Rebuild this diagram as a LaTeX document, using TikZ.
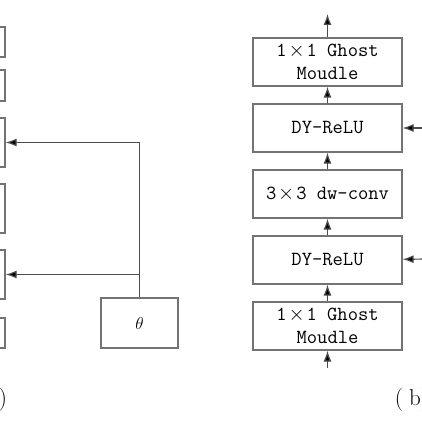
\documentclass[tikz,border=0pt]{standalone}
\usetikzlibrary{arrows.meta,positioning}

\newcommand{\bx}{\makebox[1em]{$\times$}}

\begin{document}
\begin{tikzpicture}[>={Latex[length=11pt,width=8pt]},->,x=1pt,y=-1pt,auto,node distance=66pt,
                    line width=1.2pt,draw=black!70]
\tikzstyle{block}=[draw=black!55,minimum width=149pt,minimum height=48pt,inner sep=0pt,align=center,
                   font=\fontsize{20}{23}\ttfamily]
\tikzstyle{leftbox}=[draw=black!55,minimum width=100pt,inner sep=0pt]
\tikzstyle{arr}=[-{Latex[length=11pt,width=8pt,fill=black]}]
\tikzset{label font/.style={font=\fontsize{23}{26}\selectfont}}

        \useasboundingbox (0,0) rectangle (422,422);
        \clip (0,0) rectangle (422,422);

        % (a), only its right edge shows
        \node[leftbox,minimum height=30pt] (a1) at (-45,42)    {};
        \node[leftbox,minimum height=31pt] (a2) at (-45,85.5)  {};
        \node[leftbox,minimum height=49pt] (a3) at (-45,142.5) {};
        \node[leftbox,minimum height=49pt] (a4) at (-45,208.5) {};
        \node[leftbox,minimum height=49pt] (a5) at (-45,274.5) {};
        \node[leftbox,minimum height=30pt] (a6) at (-45,333)   {};
        \node[draw=black!55,minimum width=77pt,minimum height=50pt,inner sep=0pt,font=\fontsize{19}{22}\selectfont]
                                                   (theta) at (139.5,323) {$\theta$};
        \node[label font,anchor=east] (capa) at (11,400) {(a)};

        % (b)
        \node[block]                      (ghost1) at (327.5,62)     {1\bx1 Ghost\\Moudle};
        \node[block]                      (relu1)  [below of=ghost1] {DY-ReLU};
        \node[block]                      (dw)     [below of=relu1]  {3\bx3 dw-conv};
        \node[block]                      (relu2)  [below of=dw]     {DY-ReLU};
        \node[block]                      (ghost2) [below of=relu2]  {1\bx1 Ghost\\Moudle};
        \node[label font,anchor=west]     (capb)   at (391,400)      {(\hspace{6pt}b)};

        \coordinate (out) at (ghost1.north |- 0,14);
        \coordinate (in)  at (ghost2.south |- 0,368);
        \coordinate (inA) at (430,128);
        \coordinate (inB) at (430,259);

        \path[arr]
        (in)     edge[arr] (ghost2)
        (ghost2) edge[arr] (relu2)
        (relu2)  edge[arr] (dw)
        (dw)     edge[arr] (relu1)
        (relu1)  edge[arr] (ghost1)
        (ghost1) edge[arr] (out)
        (inA)    edge[arr] (relu1)
        (inB)    edge[arr] (relu2)
        ; %end path

        \draw[arr] (theta.north) |- (a3.east);
        \draw[arr] (theta.north) |- (a5.east);

\end{tikzpicture}
\end{document}
